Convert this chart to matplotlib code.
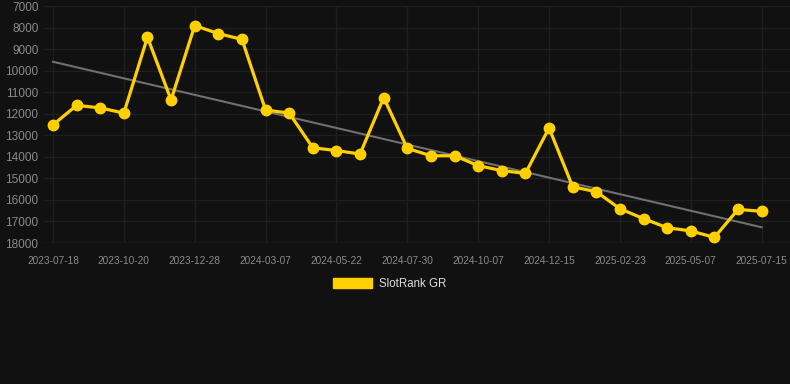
import matplotlib
matplotlib.use("Agg")
import matplotlib.pyplot as plt
from matplotlib.patches import Patch
import numpy as np

plt.rcParams['font.family'] = ['Liberation Sans', 'DejaVu Sans']

ranks = [12520, 11610, 11730, 11970, 8450, 11360, 7910, 8280, 8550, 11830,
         11970, 13580, 13710, 13870, 11250, 13610, 13950, 13950, 14410, 14640,
         14770, 12660, 15390, 15620, 16410, 16870, 17290, 17440, 17740, 16440,
         16530]
tick_labels = ["2023-07-18", "2023-10-20", "2023-12-28", "2024-03-07", "2024-05-22",
               "2024-07-30", "2024-10-07", "2024-12-15", "2025-02-23", "2025-05-07",
               "2025-07-15"]
series_name = "SlotRank GR"
y_ticks = [7000, 8000, 9000, 10000, 11000, 12000, 13000, 14000, 15000, 16000, 17000, 18000]

bg = "#111111"
grid_c = "#1f1f1f"
text_c = "#8a8a8a"
gold = "#FFD000"

fig = plt.figure(figsize=(7.9, 3.84), dpi=100, facecolor=bg)
ax = fig.add_axes([44/790, 1-243/384, 1-44/790, (243-6)/384])
ax.set_facecolor(bg)

x = np.arange(len(ranks))
coef = np.polyfit(x, ranks, 1)
ax.plot(x, np.polyval(coef, x), color="#707070", lw=1.5, zorder=2)
ax.plot(x, ranks, color=gold, lw=2.3, marker='o', markersize=7.5,
        markerfacecolor=gold, markeredgecolor=gold, zorder=3)

ax.set_ylim(18000, 7000)
ax.set_yticks(y_ticks)
ax.set_xlim(-0.38, 31.2)
ax.set_xticks(x[::3])
ax.set_xticklabels(tick_labels)

for s in ax.spines.values():
    s.set_visible(False)
ax.grid(True, color=grid_c, lw=1.0)
ax.set_axisbelow(True)
ax.tick_params(axis='y', colors=text_c, labelsize=8.5, length=0, pad=4)
ax.tick_params(axis='x', colors=text_c, labelsize=7.3, length=0, pad=9)
ax.axhline(18000, color="#262626", lw=1)

handle = Patch(facecolor=gold, edgecolor=gold)
fig.legend([handle], [series_name], loc='center', bbox_to_anchor=(0.493, 1-284/384),
           frameon=False, fontsize=8.3, labelcolor="#dddddd",
           handlelength=3.4, handleheight=1.0, handletextpad=0.55)

fig.savefig("out.png", dpi=100, facecolor=bg)
